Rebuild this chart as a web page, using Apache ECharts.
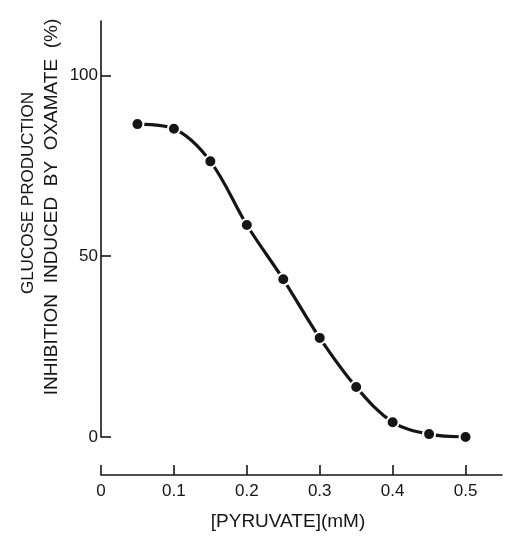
<!DOCTYPE html>
<html>
<head>
<meta charset="utf-8">
<script src="https://cdn.jsdelivr.net/npm/echarts@6/dist/echarts.min.js"></script>
<style>
html,body{margin:0;padding:0;background:#fff;}
#chart{width:532px;height:537px;}
</style>
</head>
<body>
<div id="chart"></div>
<script>
var pyruvate = [0.05, 0.10, 0.15, 0.20, 0.25, 0.30, 0.35, 0.40, 0.45, 0.50];
var inhibition = [86.5, 85.2, 76.2, 58.6, 43.6, 27.4, 13.8, 4.1, 0.8, 0];
var xTicks = [0, 0.1, 0.2, 0.3, 0.4, 0.5];
var yTicks = [0, 50, 100];
var yTitle1 = 'GLUCOSE PRODUCTION';
var yTitle2 = 'INHIBITION  INDUCED  BY  OXAMATE  (%)';
var xTitle = '[PYRUVATE](mM)';

var ink = '#151515';
var font = '"Liberation Sans", Arial, Helvetica, sans-serif';
var chart = echarts.init(document.getElementById('chart'));
var data = pyruvate.map(function (x, i) { return [x, inhibition[i]]; });

chart.setOption({
  animation: false,
  backgroundColor: '#fff',
  grid: { left: 101, top: 21, width: 401, height: 416, containLabel: false },
  xAxis: {
    type: 'value', min: 0, max: 0.55, offset: 38,
    axisLine: { show: true, onZero: false, lineStyle: { color: ink, width: 1.6 } },
    axisTick: { show: true, inside: true, length: 10, customValues: xTicks, lineStyle: { color: ink, width: 1.6 } },
    axisLabel: { customValues: xTicks, color: ink, fontFamily: font, fontSize: 17, margin: 8,
      formatter: function (v) { return v === 0 ? '0' : String(v); } },
    splitLine: { show: false }
  },
  yAxis: {
    type: 'value', min: 0, max: 115,
    axisLine: { show: true, onZero: false, lineStyle: { color: ink, width: 1.6 } },
    axisTick: { show: true, inside: true, length: 10, customValues: yTicks, lineStyle: { color: ink, width: 1.6 } },
    axisLabel: { customValues: yTicks, color: ink, fontFamily: font, fontSize: 17, margin: 3 },
    splitLine: { show: false }
  },
  graphic: [
    { type: 'text', x: 28, y: 193, rotation: Math.PI / 2,
      style: { text: yTitle1, fill: ink, font: '17px ' + font, align: 'center', verticalAlign: 'middle' } },
    { type: 'text', x: 52, y: 207, rotation: Math.PI / 2,
      style: { text: yTitle2, fill: ink, font: '19px ' + font, align: 'center', verticalAlign: 'middle' } },
    { type: 'text', x: 288, y: 522,
      style: { text: xTitle, fill: ink, font: '19px ' + font, align: 'center', verticalAlign: 'middle' } }
  ],
  series: [{
    type: 'line',
    data: data,
    smooth: 0.35,
    symbol: 'circle',
    symbolSize: 12,
    lineStyle: { color: ink, width: 3.2 },
    itemStyle: { color: ink, borderColor: '#fff', borderWidth: 2 }
  }]
});
</script>
</body>
</html>
